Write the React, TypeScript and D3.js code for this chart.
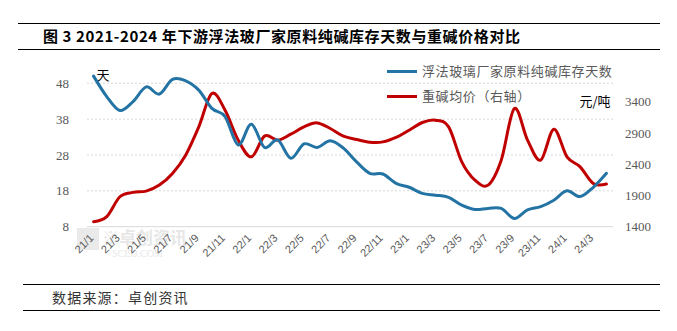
import React from "react";
import * as d3 from "d3";

const months: string[] = [];
for (let y = 21; y <= 24; y++) {
  for (let m = 1; m <= 12; m++) {
    if (y === 24 && m > 4) break;
    months.push(`${y}/${m}`);
  }
}

// 浮法玻璃厂家原料纯碱库存天数 (left axis, days)
const inventoryDays = [
  50.0, 44.3, 40.4, 42.9, 47.0, 45.0, 49.1, 48.7, 46.1, 41.0,
  38.7, 30.8, 36.6, 30.1, 32.2, 27.1, 31.1, 30.1, 32.0, 29.9,
  26.1, 22.9, 22.7, 20.1, 19.0, 17.3, 16.8, 16.2, 14.0, 12.8,
  13.1, 13.1, 10.3, 12.7, 13.6, 15.4, 18.0, 16.4, 19.0, 22.9,
];

// 重碱均价 (right axis, 元/吨)
const heavyAshPrice = [
  1480, 1560, 1879, 1949, 1970, 2066, 2253, 2545, 2997, 3530,
  3264, 2785, 2518, 2849, 2785, 2880, 2997, 3061, 2971, 2849,
  2796, 2753, 2757, 2828, 2944, 3067, 3104, 2997, 2438, 2146,
  2066, 2465, 3291, 2785, 2465, 2960, 2518, 2358, 2093, 2082,
];

const leftTicks = [8, 18, 28, 38, 48];
const rightTicks = [1400, 1900, 2400, 2900, 3400];

const title = "图 3 2021-2024 年下游浮法玻厂家原料纯碱库存天数与重碱价格对比";
const seriesNames = ["浮法玻璃厂家原料纯碱库存天数", "重碱均价（右轴）"];
const source = "数据来源：卓创资讯";

const BLUE = "#2374a4";
const RED = "#c00000";
const GRAY = "#595959";
const CJK = "'Noto Sans CJK SC', sans-serif";

export default function App() {
  const plotLeft = 87;
  const plotRight = 613;
  const x = d3.scaleBand<string>().domain(months).range([plotLeft, plotRight]);
  const cx = (m: string) => (x(m) as number) + x.bandwidth() / 2;
  const yL = d3.scaleLinear().domain([8, 48]).range([226.7, 83.3]);
  const yR = d3.scaleLinear().domain([1400, 3400]).range([226.7, 101.7]);

  const curve = d3.curveCardinal.tension(0);
  const blueLine = d3
    .line<number>()
    .x((_, i) => cx(months[i]))
    .y((d) => yL(d))
    .curve(curve)(inventoryDays) as string;
  const redLine = d3
    .line<number>()
    .x((_, i) => cx(months[i]))
    .y((d) => yR(d))
    .curve(curve)(heavyAshPrice) as string;

  return (
    <svg
      width={677}
      height={331}
      style={{ position: "absolute", left: 0, top: 0, background: "#fff" }}
    >
      <rect x={0} y={0} width={677} height={331} fill="#fff" />
      {/* title block */}
      <line x1={18} x2={660} y1={23.5} y2={23.5} stroke="#000" strokeWidth={1.2} />
      <text x={43} y={42} fontFamily={CJK} fontWeight="bold" fontSize={15} letterSpacing={0.6} fill="#000">
        {title}
      </text>
      <line x1={18} x2={660} y1={49.5} y2={49.5} stroke="#000" strokeWidth={1.2} />

      {/* watermark */}
      <g opacity={0.6}>
        <rect x={77} y={228} width={22} height={22} fill="#ddd" />
        <text x={102} y={244} fontFamily={CJK} fontSize={17} fill="#d8d8d8" fontWeight="bold">
          ※卓创资讯
        </text>
        <text x={112} y={257} fontFamily="'Liberation Serif', serif" fontSize={10} fill="#d8d8d8">
          SCI99.COM
        </text>
      </g>

      {/* grid */}
      {leftTicks.map((t) =>
        t === 8 ? (
          <line key={t} x1={plotLeft} x2={plotRight} y1={yL(t)} y2={yL(t)} stroke="#d9d9d9" strokeWidth={1} />
        ) : (
          <line
            key={t}
            x1={plotLeft}
            x2={plotRight}
            y1={yL(t)}
            y2={yL(t)}
            stroke="#d0d0d0"
            strokeWidth={0.8}
            strokeDasharray="2,2"
          />
        )
      )}

      {/* left ticks */}
      {leftTicks.map((t) => (
        <text
          key={t}
          x={69}
          y={yL(t)}
          dy="0.35em"
          textAnchor="end"
          fontFamily="'Liberation Serif', serif"
          fontSize={13}
          fill={GRAY}
        >
          {t}
        </text>
      ))}
      {/* right ticks */}
      {rightTicks.map((t) => (
        <text
          key={t}
          x={625}
          y={yR(t)}
          dy="0.35em"
          textAnchor="start"
          fontFamily="'Liberation Serif', serif"
          fontSize={13}
          fill={GRAY}
        >
          {t}
        </text>
      ))}
      <text x={103} y={75} dy="0.35em" textAnchor="middle" fontFamily={CJK} fontSize={13} fill="#000">
        天
      </text>
      <text x={595} y={yR(3400)} dy="0.35em" textAnchor="middle" fontFamily={CJK} fontSize={13} fill="#000">
        元/吨
      </text>

      {/* x labels */}
      {months.map((m, i) =>
        i % 2 === 0 ? (
          <text
            key={m}
            transform={`translate(${cx(m) - 2},${236}) rotate(-45)`}
            textAnchor="end"
            dy="0.35em"
            fontFamily="'Liberation Sans', sans-serif"
            fontSize={11}
            fill={GRAY}
          >
            {m}
          </text>
        ) : null
      )}

      {/* series */}
      <path d={redLine} fill="none" stroke={RED} strokeWidth={3} strokeLinejoin="round" strokeLinecap="round" />
      <path d={blueLine} fill="none" stroke={BLUE} strokeWidth={3} strokeLinejoin="round" strokeLinecap="round" />

      {/* legend */}
      <line x1={387} x2={417} y1={71.5} y2={71.5} stroke={BLUE} strokeWidth={3} />
      <text x={422} y={71.5} dy="0.35em" fontFamily={CJK} fontSize={13} letterSpacing={0.6} fill={GRAY}>
        {seriesNames[0]}
      </text>
      <line x1={387} x2={417} y1={96.5} y2={96.5} stroke={RED} strokeWidth={3} />
      <text x={422} y={96.5} dy="0.35em" fontFamily={CJK} fontSize={13} letterSpacing={0.6} fill={GRAY}>
        {seriesNames[1]}
      </text>

      {/* footer */}
      <line x1={23} x2={660} y1={284.5} y2={284.5} stroke="#000" strokeWidth={1.2} />
      <text x={52} y={298} dy="0.35em" fontFamily={CJK} fontSize={14} letterSpacing={1.2} fill="#333">
        {source}
      </text>
      <line x1={23} x2={660} y1={310.5} y2={310.5} stroke="#000" strokeWidth={1.2} />
    </svg>
  );
}
